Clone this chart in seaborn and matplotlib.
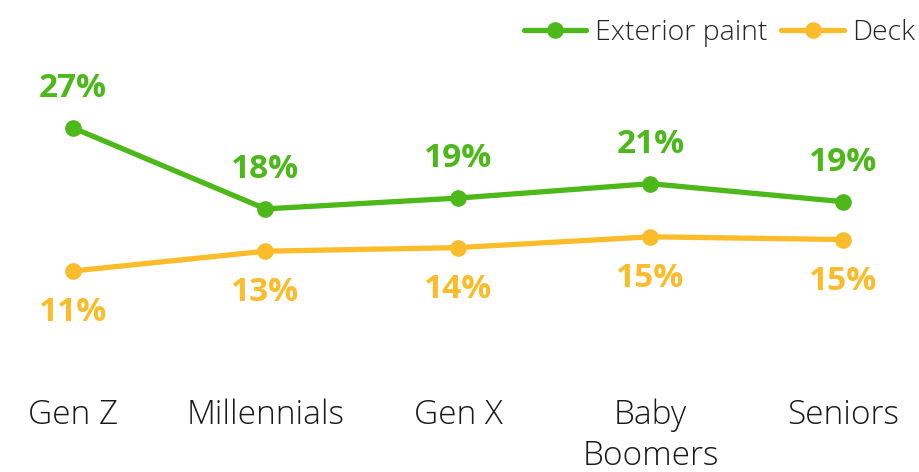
import numpy as np
import pandas as pd
import matplotlib.pyplot as plt
import seaborn as sns

# generations and values (% of respondents)
generations = ['Gen Z', 'Millennials', 'Gen X', 'Baby\nBoomers', 'Seniors']
exterior_paint = [27.0, 18.0, 19.2, 20.8, 18.8]
deck = [11.1, 13.3, 13.7, 14.9, 14.6]
series_names = ['Exterior paint', 'Deck']
colors = ['#4cb81a', '#fbbc2c']

df = pd.DataFrame({
    'gen': generations * 2,
    'pos': list(range(len(generations))) * 2,
    'value': exterior_paint + deck,
    'series': [series_names[0]] * 5 + [series_names[1]] * 5,
})

sns.set_style('white')
plt.rcParams['font.family'] = ['Open Sans', 'DejaVu Sans']

fig = plt.figure(figsize=(9.19, 4.72), dpi=100)
ax = fig.add_axes([0, 0.174, 1, 0.826])

sns.lineplot(data=df, x='pos', y='value', hue='series', palette=colors,
             marker='o', markersize=12, markeredgewidth=0, linewidth=3.8,
             ax=ax, legend=False)

# data labels: green above, yellow below
for i, v in enumerate(exterior_paint):
    ax.annotate(f'{round(v)}%', (i, v), xytext=(0, 28.5), textcoords='offset points',
                ha='center', va='center', fontsize=24, fontweight='bold', color=colors[0])
for i, v in enumerate(deck):
    ax.annotate(f'{round(v)}%', (i, v), xytext=(0, -30), textcoords='offset points',
                ha='center', va='center', fontsize=24, fontweight='bold', color=colors[1])

ax.set_xlim(-0.379, 4.395)
ax.set_ylim(-2.1, 41.2)
ax.set_xticks(range(len(generations)))
ax.set_xticklabels(generations, fontsize=24, fontweight='light', color='#1a1a1a',
                   linespacing=1.3, va='top')
ax.tick_params(axis='x', length=0, pad=6)
ax.set_yticks([])
ax.set_xlabel('')
ax.set_ylabel('')
sns.despine(ax=ax, left=True, bottom=True)

handles = [plt.Line2D([], [], color=c, marker='o', markersize=12, markeredgewidth=0, linewidth=3.8)
           for c in colors]
fig.legend(handles, series_names, loc='upper right', bbox_to_anchor=(1.024, 1.015), ncol=2,
           frameon=False, handlelength=2.2, handletextpad=0.3, columnspacing=0.5,
           prop={'size': 20.5, 'weight': 'light'})

fig.savefig('out.png', dpi=100)
